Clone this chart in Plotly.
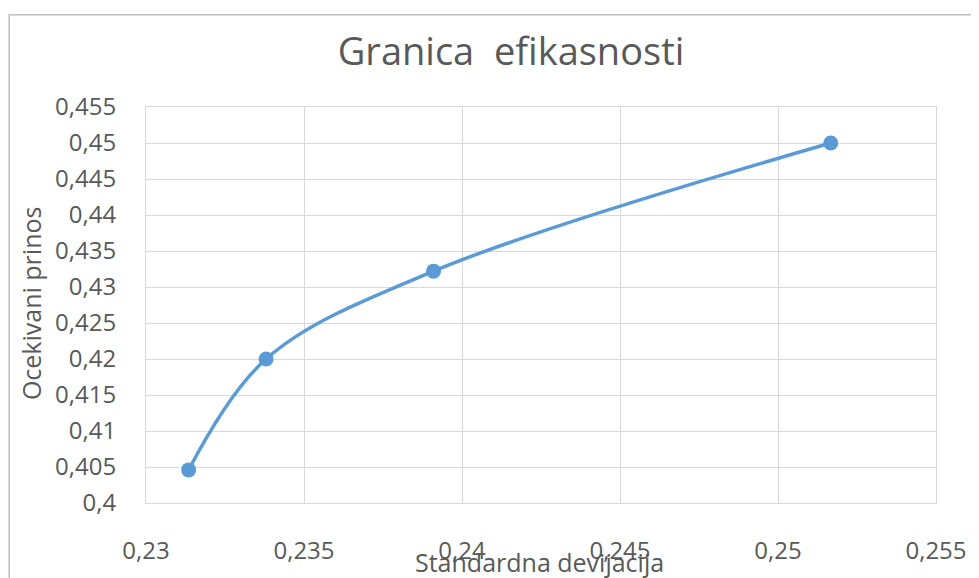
import plotly.graph_objects as go

std_dev = [0.23135, 0.2338, 0.2391, 0.25167]
exp_return = [0.4046, 0.4200, 0.4322, 0.4500]

x_ticks = [0.23, 0.235, 0.24, 0.245, 0.25, 0.255]
y_ticks = [0.4, 0.405, 0.41, 0.415, 0.42, 0.425, 0.43, 0.435, 0.44, 0.445, 0.45, 0.455]

FONT = "Open Sans"
GREY = "#595959"
GRID = "#D9D9D9"

# page body has an 8px offset; plot area spans page x 146..940, y 107..506
W, H = 971, 570
fig = go.Figure()
fig.add_trace(go.Scatter(
    x=std_dev, y=exp_return, mode="lines+markers",
    line=dict(color="#5B9BD5", width=3.5, shape="spline", smoothing=1.0),
    marker=dict(color="#5B9BD5", size=15),
    showlegend=False,
))

fig.update_layout(
    width=W, height=H,
    margin=dict(l=138, r=39, t=99, b=72),
    paper_bgcolor="white", plot_bgcolor="white",
    separators=", ",
    title=dict(text="Granica  efikasnosti", x=(511 - 8) / W, xanchor="center",
               y=1 - (52 - 8) / H, yanchor="middle",
               font=dict(family=FONT, size=38, color=GREY)),
    font=dict(family=FONT, color=GREY),
    xaxis=dict(range=[0.23, 0.255], tickvals=x_ticks, showgrid=True, gridcolor=GRID, gridwidth=1,
               showline=True, linecolor=GRID, mirror=True, zeroline=False, ticks="",
               tickfont=dict(family=FONT, size=24, color=GREY), ticklabelstandoff=26),
    yaxis=dict(range=[0.4, 0.455], tickvals=y_ticks, showgrid=True, gridcolor=GRID, gridwidth=1,
               showline=True, linecolor=GRID, mirror=True, zeroline=False, ticks="",
               tickfont=dict(family=FONT, size=24, color=GREY), ticklabelstandoff=24),
)

fig.add_annotation(text="Standardna devijacija", xref="paper", yref="paper",
                   x=(541 - 146) / 794, y=(506 - 565) / 399, xanchor="center", yanchor="middle",
                   showarrow=False, font=dict(family=FONT, size=25, color=GREY))
fig.add_annotation(text="Ocekivani prinos", xref="paper", yref="paper", textangle=-90,
                   x=(30 - 146) / 794, y=(506 - 305) / 399, xanchor="center", yanchor="middle",
                   showarrow=False, font=dict(family=FONT, size=25, color=GREY))

fig.add_shape(type="rect", xref="paper", yref="paper",
              x0=(8.5 - 146) / 794, x1=(990 - 146) / 794,
              y0=(506 - 600) / 399, y1=(506 - 14) / 399,
              line=dict(color="#BFBFBF", width=1.5), layer="below")

fig.write_html("out.html")
